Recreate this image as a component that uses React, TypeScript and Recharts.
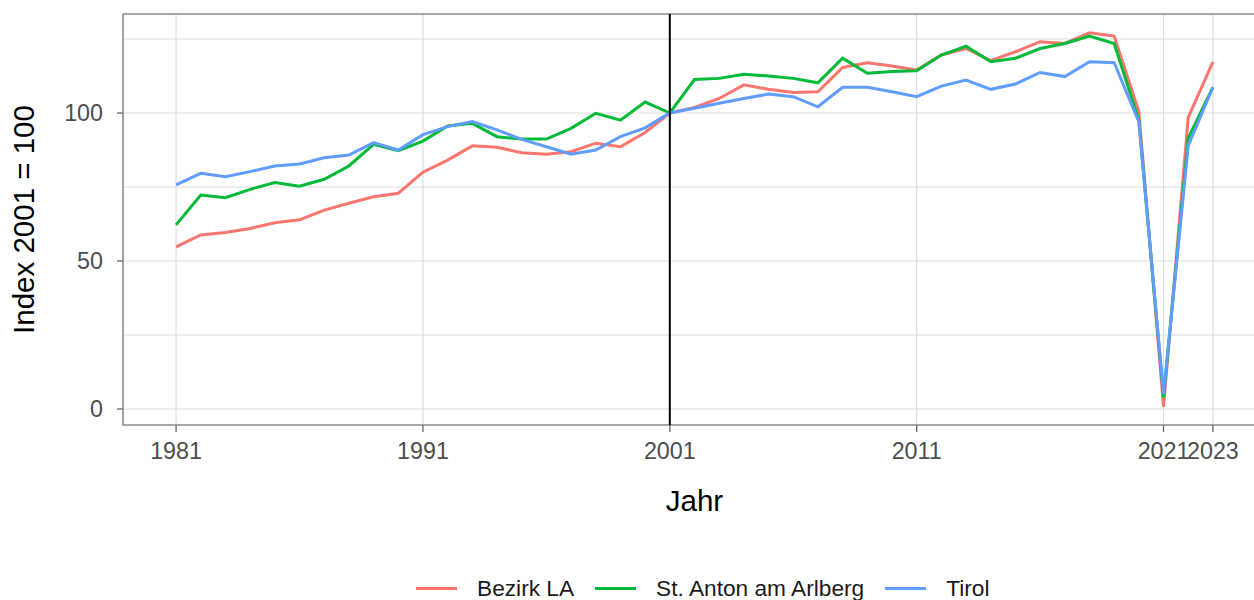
import React from "react";
import {
  LineChart,
  Line,
  XAxis,
  YAxis,
  CartesianGrid,
  ReferenceLine,
  ReferenceArea,
  Legend,
} from "recharts";

const years = [
  1981, 1982, 1983, 1984, 1985, 1986, 1987, 1988, 1989, 1990,
  1991, 1992, 1993, 1994, 1995, 1996, 1997, 1998, 1999, 2000,
  2001, 2002, 2003, 2004, 2005, 2006, 2007, 2008, 2009, 2010,
  2011, 2012, 2013, 2014, 2015, 2016, 2017, 2018, 2019, 2020,
  2021, 2022, 2023,
];

const bezirkLA = [
  54.8, 58.8, 59.6, 61.0, 62.9, 63.9, 67.2, 69.5, 71.7, 72.9,
  80.0, 84.1, 88.9, 88.4, 86.6, 86.1, 86.9, 89.8, 88.6, 93.4,
  100, 101.9, 104.9, 109.5, 108.0, 106.9, 107.2, 115.4, 117.0, 115.9,
  114.5, 119.6, 121.8, 117.7, 120.7, 124.1, 123.5, 127.1, 126.0, 100.5,
  0.8, 98.5, 117.3,
];

const stAnton = [
  62.2, 72.3, 71.4, 74.2, 76.5, 75.3, 77.6, 82.1, 89.4, 87.3,
  90.5, 95.6, 96.5, 92.0, 91.2, 91.2, 94.8, 99.9, 97.6, 103.7,
  100, 111.3, 111.7, 113.1, 112.5, 111.7, 110.2, 118.5, 113.4, 114.0,
  114.3, 119.6, 122.6, 117.3, 118.5, 121.8, 123.5, 126.0, 123.5, 97.5,
  4.0, 91.5, 108.7,
];

const tirol = [
  75.7, 79.6, 78.5, 80.2, 82.1, 82.8, 84.9, 85.8, 90.0, 87.5,
  92.7, 95.4, 97.1, 94.3, 91.1, 88.6, 86.1, 87.5, 92.0, 95.0,
  100, 101.6, 103.3, 104.9, 106.4, 105.5, 102.1, 108.7, 108.7, 107.2,
  105.5, 109.1, 111.1, 108.0, 109.8, 113.7, 112.3, 117.3, 117.0, 97.0,
  5.0, 89.0, 108.7,
];

const xTicks = [1981, 1991, 2001, 2011, 2021, 2023];
const yTicks = [0, 50, 100];
const yGrid = [0, 25, 50, 75, 100, 125];
const referenceYear = 2001;

const seriesNames = ["Bezirk LA", "St. Anton am Arlberg", "Tirol"];
const seriesKeys = ["bezirk", "anton", "tirol"];
const seriesColors = ["#F8766D", "#00BA38", "#619CFF"];

const data = years.map((y, i) => ({
  year: y,
  bezirk: bezirkLA[i],
  anton: stAnton[i],
  tirol: tirol[i],
}));

const X_DOMAIN: [number, number] = [1978.85, 2025.15];
const Y_DOMAIN: [number, number] = [-5.41, 133.45];
const FONT = "'Liberation Sans', Arial, sans-serif";

const LegendContent = () => (
  <div
    style={{
      display: "flex",
      alignItems: "center",
      height: 30,
      fontFamily: FONT,
      fontSize: 22.7,
      color: "#1a1a1a",
      whiteSpace: "nowrap",
    }}
  >
    {seriesNames.map((name, i) => (
      <div key={name} style={{ display: "flex", alignItems: "center", marginRight: 21 }}>
        <div style={{ width: 41, height: 3, background: seriesColors[i], marginRight: 20 }} />
        <span>{name}</span>
      </div>
    ))}
  </div>
);

export default function App() {
  return (
    <div
      style={{
        position: "absolute",
        left: 0,
        top: 0,
        width: 1254,
        height: 600,
        overflow: "hidden",
        background: "#ffffff",
      }}
    >
      <LineChart
        width={1280}
        height={600}
        data={data}
        margin={{ top: 14, right: 14, bottom: 45, left: 0 }}
      >
        <CartesianGrid
          stroke="#dedede"
          strokeWidth={1.2}
          horizontalValues={yGrid}
          verticalValues={xTicks}
        />
        <XAxis
          dataKey="year"
          type="number"
          domain={X_DOMAIN}
          ticks={xTicks}
          allowDataOverflow
          height={100}
          axisLine={false}
          tickSize={7}
          tickMargin={10}
          tickLine={{ stroke: "#666666", strokeWidth: 1.3 }}
          tick={{ fontSize: 23.3, fill: "#4d4d4d", fontFamily: FONT }}
          interval={0}
          label={{
            value: "Jahr",
            position: "insideBottom",
            offset: 14,
            style: { fontSize: 29.5, fill: "#000000", fontFamily: FONT },
          }}
        />
        <YAxis
          type="number"
          domain={Y_DOMAIN}
          ticks={yTicks}
          allowDataOverflow
          width={123}
          axisLine={false}
          tickSize={6}
          tickMargin={14}
          tickLine={{ stroke: "#666666", strokeWidth: 1.3 }}
          tick={{ fontSize: 23.3, fill: "#4d4d4d", fontFamily: FONT }}
          interval={0}
          label={{
            value: "Index 2001 = 100",
            angle: -90,
            position: "insideLeft",
            offset: 24,
            style: { fontSize: 29.5, fill: "#000000", fontFamily: FONT, textAnchor: "middle" },
          }}
        />
        <ReferenceArea
          x1={X_DOMAIN[0]}
          x2={X_DOMAIN[1]}
          y1={Y_DOMAIN[0]}
          y2={Y_DOMAIN[1]}
          fill="none"
          fillOpacity={0}
          stroke="#8c8c8c"
          strokeWidth={1.6}
          ifOverflow="visible"
        />
        {seriesKeys.map((k, i) => (
          <Line
            key={k}
            type="linear"
            dataKey={k}
            name={seriesNames[i]}
            stroke={seriesColors[i]}
            strokeWidth={3}
            dot={false}
            activeDot={false}
            isAnimationActive={false}
          />
        ))}
        <ReferenceLine x={referenceYear} stroke="#000000" strokeWidth={2} />
        <Legend
          verticalAlign="bottom"
          content={<LegendContent />}
          wrapperStyle={{ position: "absolute", left: 416, top: 573, bottom: "auto", width: "auto", height: 30 }}
        />
      </LineChart>
    </div>
  );
}
